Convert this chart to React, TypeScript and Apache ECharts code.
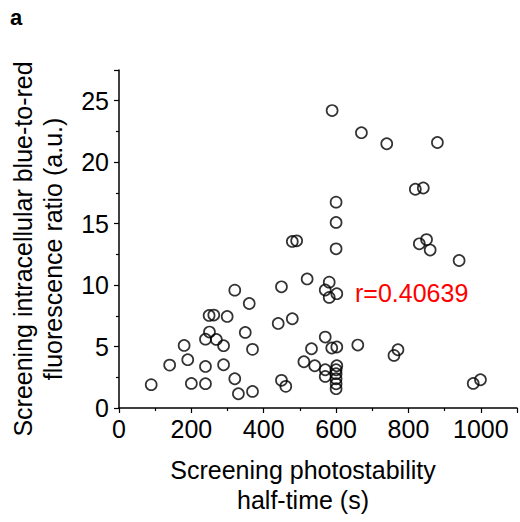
import React, { useEffect, useRef } from "react";
import * as echarts from "echarts";

// Screening photostability half-time (s)
const halfTime = [
  589, 670, 740, 880, 819, 841, 600, 600,
  600, 830, 850, 860, 940, 520, 581, 570, 581, 602,
  570, 588, 602, 660, 532, 760, 771, 541, 570, 570,
  602, 600, 600, 600, 600, 600, 979, 999,
  479, 491, 449, 320, 360, 249, 262, 299, 440, 479,
  250, 349, 239, 269, 180, 289, 369, 190, 140, 239,
  289, 511, 320, 449, 461, 89, 200, 239, 330, 369,
];
// Screening intracellular blue-to-red fluorescence ratio (a.u.)
const ratio = [
  24.2, 22.4, 21.5, 21.6, 17.8, 17.9, 16.75, 15.1,
  12.95, 13.36, 13.7, 12.85, 12.0, 10.5, 10.24, 9.6, 9.0, 9.3,
  5.77, 4.88, 4.96, 5.12, 4.82, 4.28, 4.74, 3.44, 3.11, 2.57,
  3.44, 3.11, 2.79, 2.38, 1.97, 1.57, 2.0, 2.3,
  13.55, 13.6, 9.86, 9.59, 8.5, 7.53, 7.56, 7.45, 6.88, 7.26,
  6.18, 6.15, 5.6, 5.58, 5.09, 5.07, 4.77, 3.93, 3.49, 3.38,
  3.52, 3.76, 2.38, 2.25, 1.76, 1.9, 2.0, 1.98, 1.16, 1.35,
];
const xTicks = [0, 200, 400, 600, 800, 1000];
const yTicks = [0, 5, 10, 15, 20, 25];
const correlationLabel = "r=0.40639";
const panelLabel = "a";

const FONT = "'Liberation Sans', Arial, Helvetica, sans-serif";

export default function App() {
  const ref = useRef<HTMLDivElement>(null);
  useEffect(() => {
    document.body.style.margin = "0";
    if (!ref.current) return;
    const chart = echarts.init(ref.current, null, { renderer: "svg" });
    const points = halfTime.map((x, i) => [x, ratio[i]]);
    chart.setOption({
      animation: false,
      backgroundColor: "#ffffff",
      textStyle: { fontFamily: FONT },
      grid: { left: 118, right: 0, top: 70, bottom: 114, containLabel: false },
      xAxis: {
        type: "value",
        min: 0,
        max: 1100,
        interval: 200,
        name: "Screening photostability\nhalf-time (s)",
        nameLocation: "middle",
        nameGap: 47,
        nameTextStyle: {
          fontSize: 25,
          color: "#000",
          fontFamily: FONT,
          lineHeight: 30,
          padding: [0, 30, 0, 0],
        },
        axisLine: { show: true, lineStyle: { color: "#000", width: 1.5 } },
        axisTick: { show: true, inside: false, length: 5, lineStyle: { color: "#000", width: 1.2 } },
        minorTick: { show: true, splitNumber: 2, length: 3, lineStyle: { color: "#000", width: 1.2 } },
        splitLine: { show: false },
        minorSplitLine: { show: false },
        axisLabel: {
          fontSize: 25,
          color: "#000",
          fontFamily: FONT,
          margin: 8,
          formatter: (v: number) => (xTicks.includes(v) ? String(v) : ""),
        },
      },
      yAxis: {
        type: "value",
        min: 0,
        max: 27.5,
        interval: 5,
        name: "Screening intracellular blue-to-red\nfluorescence ratio (a.u.)",
        nameLocation: "middle",
        nameGap: 51,
        nameRotate: 90,
        nameTextStyle: {
          fontSize: 25,
          color: "#000",
          fontFamily: FONT,
          lineHeight: 30,
          padding: [0, 20, 0, 0],
        },
        axisLine: { show: true, lineStyle: { color: "#000", width: 1.5 } },
        axisTick: { show: true, inside: false, length: 5, lineStyle: { color: "#000", width: 1.2 } },
        minorTick: { show: true, splitNumber: 2, length: 3, lineStyle: { color: "#000", width: 1.2 } },
        splitLine: { show: false },
        minorSplitLine: { show: false },
        axisLabel: {
          fontSize: 25,
          color: "#000",
          fontFamily: FONT,
          margin: 10,
          formatter: (v: number) => (yTicks.includes(v) ? String(v) : ""),
        },
      },
      series: [
        {
          type: "scatter",
          data: points,
          symbol: "circle",
          symbolSize: 11,
          itemStyle: { color: "rgba(255,255,255,0)", borderColor: "#000", borderWidth: 1.7 },
          emphasis: { disabled: true },
        },
      ],
      graphic: [
        {
          type: "text",
          x: 355,
          y: 293,
          style: {
            text: correlationLabel,
            font: `25px ${FONT}`,
            fill: "#ff0000",
            verticalAlign: "middle",
            align: "left",
          },
        },
        {
          type: "text",
          x: 10,
          y: 17,
          style: {
            text: panelLabel,
            font: `bold 22px ${FONT}`,
            fill: "#000",
            verticalAlign: "middle",
            align: "left",
          },
        },
      ],
    });
    return () => chart.dispose();
  }, []);
  return <div ref={ref} style={{ width: 520, height: 522 }} />;
}
